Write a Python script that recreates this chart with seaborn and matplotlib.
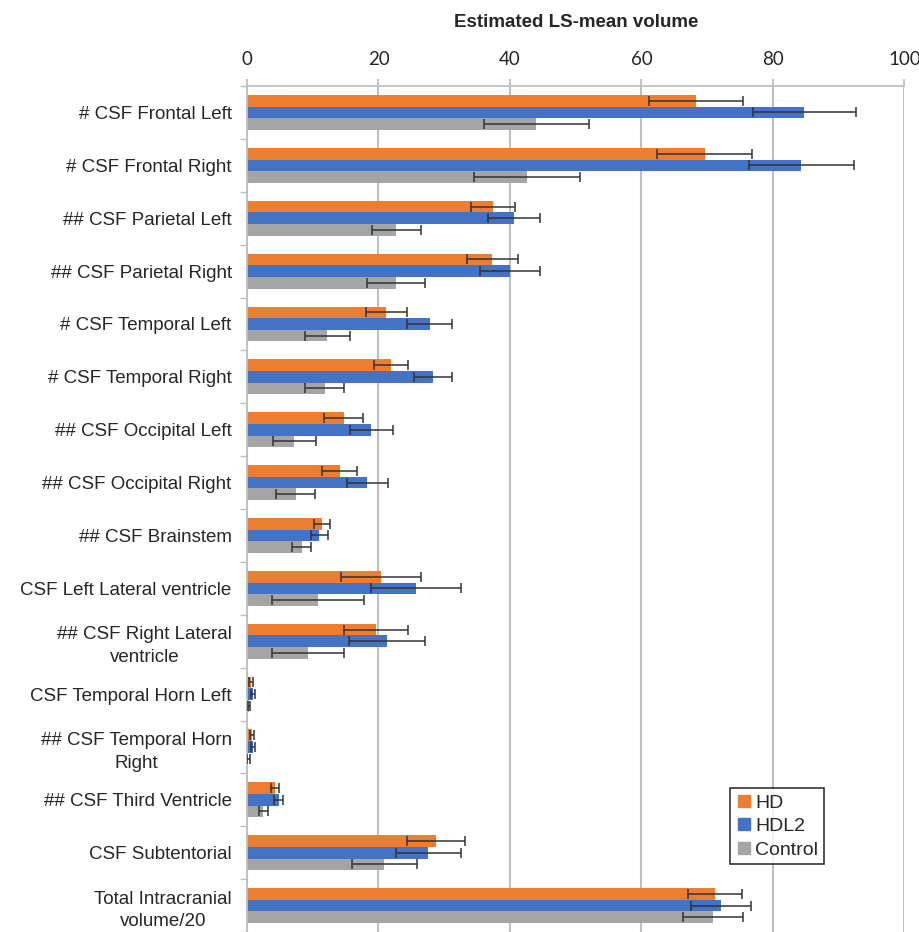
import numpy as np
import pandas as pd
import matplotlib
matplotlib.use("Agg")
import matplotlib.pyplot as plt
import seaborn as sns
from matplotlib.lines import Line2D

regions = [
    "# CSF Frontal Left", "# CSF Frontal Right", "## CSF Parietal Left",
    "## CSF Parietal Right", "# CSF Temporal Left", "# CSF Temporal Right",
    "## CSF Occipital Left", "## CSF Occipital Right", "## CSF Brainstem",
    "CSF Left Lateral ventricle", "## CSF Right Lateral\nventricle",
    "CSF Temporal Horn Left", "## CSF Temporal Horn\nRight",
    "## CSF Third Ventricle", "CSF Subtentorial", "Total Intracranial\nvolume/20",
]
groups = ["HD", "HDL2", "Control"]

hd_mean = [68.3, 69.6, 37.4, 37.3, 21.2, 21.9, 14.7, 14.1, 11.4, 20.4, 19.6, 0.6, 0.7, 4.2, 28.8, 71.2]
hd_err = [7.1, 7.2, 3.3, 3.9, 3.1, 2.6, 3.0, 2.7, 1.2, 6.1, 4.9, 0.3, 0.3, 0.6, 4.4, 4.1]
hdl2_mean = [84.8, 84.3, 40.6, 40.0, 27.8, 28.3, 18.9, 18.3, 11.0, 25.7, 21.3, 0.9, 0.9, 4.8, 27.6, 72.1]
hdl2_err = [7.9, 8.0, 4.0, 4.6, 3.4, 2.9, 3.3, 3.1, 1.3, 6.9, 5.8, 0.3, 0.3, 0.7, 5.0, 4.5]
ctrl_mean = [44.0, 42.6, 22.7, 22.7, 12.2, 11.8, 7.2, 7.4, 8.3, 10.8, 9.3, 0.3, 0.2, 2.5, 20.9, 70.9]
ctrl_err = [8.0, 8.0, 3.7, 4.4, 3.4, 3.0, 3.3, 3.0, 1.4, 7.0, 5.5, 0.2, 0.2, 0.7, 4.9, 4.5]

x_ticks = [0, 20, 40, 60, 80, 100]
colors = ["#ED7D31", "#4472C4", "#A5A5A5"]
title = "Estimated LS-mean volume"

means = [hd_mean, hdl2_mean, ctrl_mean]
errs = [hd_err, hdl2_err, ctrl_err]
df = pd.DataFrame({
    "region": np.tile(regions, 3),
    "group": np.repeat(groups, len(regions)),
    "value": np.concatenate(means),
    "err": np.concatenate(errs),
})

sns.set_style("white")
plt.rcParams["font.family"] = ["Liberation Sans", "DejaVu Sans"]

fig = plt.figure(figsize=(9.2, 9.32), dpi=100)
ax = fig.add_axes([0.2685, 0.0, 0.7145, 0.9077])

sns.barplot(data=df, y="region", x="value", hue="group", orient="h",
            order=regions, hue_order=groups, palette=colors, width=0.66,
            errorbar=None, linewidth=0, saturation=1, ax=ax, legend=False)

for cont, err in zip(ax.containers, errs):
    ys = [p.get_y() + p.get_height() / 2 for p in cont]
    xs = [p.get_width() for p in cont]
    ax.errorbar(xs, ys, xerr=err, fmt="none", ecolor="#333333",
                elinewidth=1.1, capsize=3.8, capthick=1.1, zorder=4)

ax.set_xlim(0, 100)
ax.set_ylim(len(regions) - 0.5, -0.5)
ax.xaxis.tick_top()
ax.xaxis.set_label_position("top")
ax.set_xticks(x_ticks)
ax.set_xticklabels([str(t) for t in x_ticks], fontsize=13.5, family=["Lato", "DejaVu Sans"])
ax.set_xlabel(title, fontsize=13.5, fontweight="bold", labelpad=17)
ax.set_ylabel("")
ax.set_yticks(range(len(regions)))
ax.set_yticklabels(regions, fontsize=13.5)
for lbl in ax.get_yticklabels():
    lbl.set_multialignment("center")
    lbl.set_linespacing(1.45)
ax.set_yticks(np.arange(-0.5, len(regions), 1.0), minor=True)
ax.tick_params(axis="y", which="major", length=0, pad=11)
ax.tick_params(axis="y", which="minor", length=5, color="#BFBFBF", width=1, left=True)
ax.tick_params(axis="x", which="major", length=5, color="#BFBFBF", width=1.3, pad=8, top=True)

ax.grid(axis="x", color="#BFBFBF", linewidth=1.5, zorder=0)
ax.set_axisbelow(True)
for s in ["right", "bottom"]:
    ax.spines[s].set_visible(False)
for s in ["top", "left"]:
    ax.spines[s].set_visible(True)
    ax.spines[s].set_color("#BFBFBF")
    ax.spines[s].set_linewidth(1.3)

handles = [Line2D([], [], marker="s", linestyle="none", markersize=8,
                  markerfacecolor=c, markeredgecolor=c) for c in colors]
leg = ax.legend(handles, groups, loc="upper left", bbox_to_anchor=(0.735, 0.170),
                fontsize=14, frameon=True, fancybox=False, handlelength=0.8,
                handletextpad=0.2, labelspacing=0.3, borderpad=0.3, borderaxespad=0)
leg.get_frame().set_edgecolor("black")
leg.get_frame().set_linewidth(1.2)

fig.savefig("out.png", dpi=100)
